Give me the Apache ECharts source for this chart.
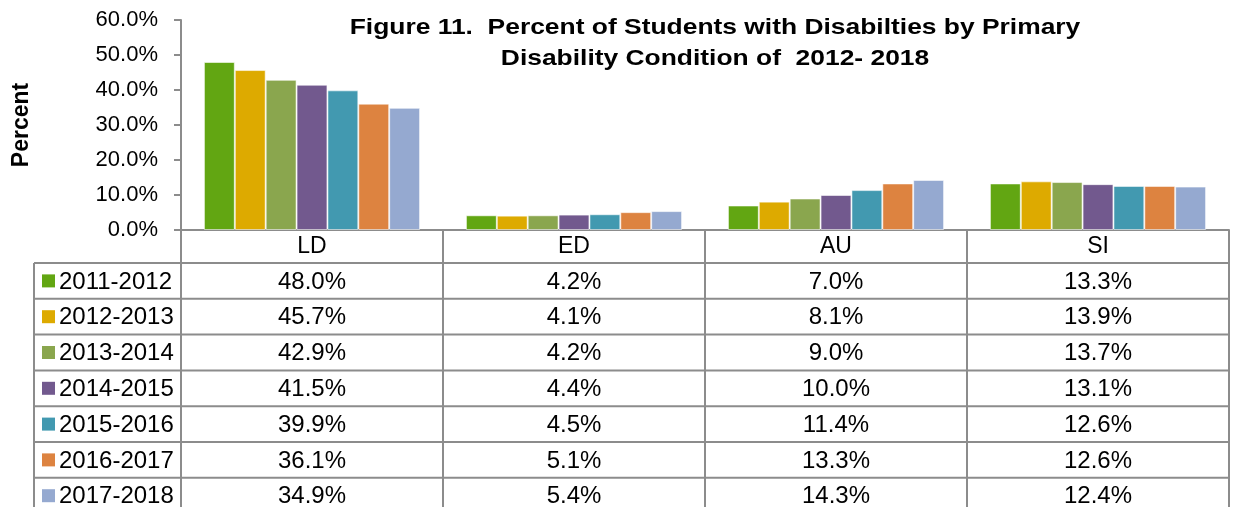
<!DOCTYPE html>
<html>
<head>
<meta charset="utf-8">
<script src="https://cdn.jsdelivr.net/npm/echarts@6/dist/echarts.min.js"></script>
<style>
  html, body { margin: 0; padding: 0; background: #fff; }
  #chart { width: 1235px; height: 507px; }
</style>
</head>
<body>
<div id="chart"></div>
<script>
// Disability condition categories
const categories = ['LD', 'ED', 'AU', 'SI'];
// School years (one series each)
const years = ['2011-2012', '2012-2013', '2013-2014', '2014-2015', '2015-2016', '2016-2017', '2017-2018'];
// Percent of students per year, in category order
const y2011 = [48.0, 4.2, 7.0, 13.3];
const y2012 = [45.7, 4.1, 8.1, 13.9];
const y2013 = [42.9, 4.2, 9.0, 13.7];
const y2014 = [41.5, 4.4, 10.0, 13.1];
const y2015 = [39.9, 4.5, 11.4, 12.6];
const y2016 = [36.1, 5.1, 13.3, 12.6];
const y2017 = [34.9, 5.4, 14.3, 12.4];
const seriesValues = [y2011, y2012, y2013, y2014, y2015, y2016, y2017];
const colors = ['#62a612', '#ddaa00', '#8aa64e', '#72598e', '#4299b0', '#dd8340', '#95a9d0'];
const titleLines = [
  'Figure 11.  Percent of Students with Disabilties by Primary',
  'Disability Condition of  2012- 2018'
];

const FONT = '"Liberation Sans", Arial, sans-serif';
const LINE = '#8c8c8c';
const fmt = v => v.toFixed(1) + '%';

const chart = echarts.init(document.getElementById('chart'), null, { renderer: 'canvas' });

const GRID = { left: 181, right: 6, top: 20, bottom: 277 };

chart.setOption({
  animation: false,
  backgroundColor: '#fff',
  textStyle: { fontFamily: FONT },
  grid: GRID,
  xAxis: {
    type: 'category',
    data: categories,
    axisLine: { lineStyle: { color: LINE, width: 2 } },
    axisTick: { show: false },
    axisLabel: { color: '#000', fontSize: 23, margin: 5, fontFamily: FONT }
  },
  yAxis: {
    type: 'value',
    min: 0,
    max: 60,
    interval: 10,
    name: 'Percent',
    nameLocation: 'middle',
    nameRotate: 90,
    nameGap: 148,
    nameTextStyle: { fontFamily: FONT, fontWeight: 'bold', fontSize: 23, color: '#000' },
    axisLine: { show: true, lineStyle: { color: LINE, width: 2 } },
    axisTick: { show: true, length: 7, lineStyle: { color: LINE, width: 2 } },
    splitLine: { show: false },
    axisLabel: { color: '#000', fontSize: 22, margin: 23, fontFamily: FONT, formatter: v => fmt(v) }
  },
  series: years.map((y, i) => ({
    name: y,
    type: 'bar',
    data: seriesValues[i],
    barGap: '0%',
    barCategoryGap: '17.5%',
    itemStyle: { color: colors[i], borderColor: 'rgba(255,255,255,0.55)', borderWidth: 1 }
  }))
});

// Title and data table under the plot, aligned to the category axis
function buildOverlay() {
  const centers = categories.map(c => chart.convertToPixel({ xAxisIndex: 0 }, c));
  const band = centers.length > 1 ? centers[1] - centers[0] : 262;
  const axisY = chart.convertToPixel({ yAxisIndex: 0 }, 0);
  const rightEdge = centers[centers.length - 1] + band / 2;
  const legendLeft = 34;
  const rowTop = axisY + 33;
  const rowH = 35.8;
  const bottom = rowTop + rowH * years.length;
  const g = [];
  const line = (x1, y1, x2, y2) => g.push({
    type: 'line', shape: { x1, y1, x2, y2 }, style: { stroke: LINE, lineWidth: 2 }, silent: true
  });

  // two-line bold title
  titleLines.forEach((t, i) => g.push({
    type: 'text', x: 715, y: 28 + i * 31, scaleX: 1.2,
    style: { text: t, fill: '#000', font: 'bold 22px ' + FONT, textAlign: 'center', textVerticalAlign: 'middle' },
    silent: true
  }));

  // column boundaries
  centers.forEach(c => line(c - band / 2, axisY, c - band / 2, bottom));
  line(rightEdge, axisY, rightEdge, bottom);
  // legend column left edge
  line(legendLeft, rowTop, legendLeft, bottom);
  // row separators
  for (let k = 0; k <= years.length; k++) {
    const y = rowTop + k * rowH;
    line(legendLeft, y, rightEdge, y);
  }
  // row contents
  years.forEach((yr, i) => {
    const cy = rowTop + i * rowH + rowH / 2;
    g.push({ type: 'rect', shape: { x: 42, y: cy - 6.5, width: 13, height: 13 }, style: { fill: colors[i] }, silent: true });
    g.push({
      type: 'text', x: 59, y: cy + 1,
      style: { text: yr, fill: '#000', font: '24px ' + FONT, textAlign: 'left', textVerticalAlign: 'middle' },
      silent: true
    });
    seriesValues[i].forEach((v, j) => {
      g.push({
        type: 'text', x: centers[j], y: cy + 1,
        style: { text: fmt(v), fill: '#000', font: '24px ' + FONT, textAlign: 'center', textVerticalAlign: 'middle' },
        silent: true
      });
    });
  });
  chart.setOption({ graphic: { elements: g } });
}
buildOverlay();
</script>
</body>
</html>
